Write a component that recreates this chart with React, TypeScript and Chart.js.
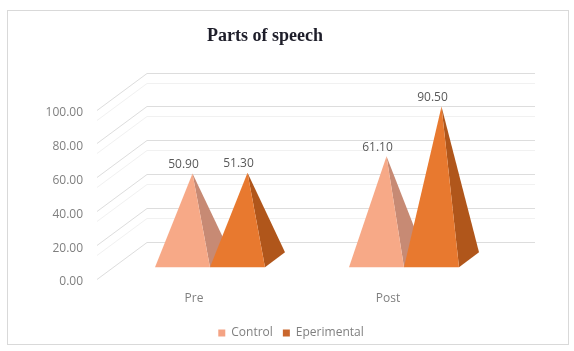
import React, { useEffect, useRef } from "react";
import { Chart, registerables } from "chart.js";

Chart.register(...registerables);

// Chart data
const categories = ["Pre", "Post"];
const seriesNames = ["Control", "Eperimental"];
const controlValues = [50.9, 61.1];
const experimentalValues = [51.3, 90.5];
const yTickValues = [0, 20, 40, 60, 80, 100];

// Face colours for each series: lit front face, shaded right face, legend swatch
const frontColors = ["#F7A987", "#E8792F"];
const sideColors = ["#C78A74", "#B0561B"];
const legendColors = ["#F4A384", "#C9662C"];

// Oblique 3D projection: full floor depth maps to this screen offset
const DEPTH_X = 50;
const DEPTH_Y = -37;
// Pyramids stand between these depth fractions of the floor
const NEAR = 0.32;
const FAR = 0.72;

const labelFont = "Open Sans";

const pyramid3d = {
  id: "pyramid3d",
  beforeDraw(chart: any) {
    const { ctx, width, height } = chart;
    ctx.save();
    ctx.fillStyle = "#FFFFFF";
    ctx.fillRect(0, 0, width, height);
    ctx.strokeStyle = "#D9D9D9";
    ctx.lineWidth = 1;
    ctx.strokeRect(7.5, 10.5, 561, 334);
    ctx.restore();
  },
  beforeDatasetsDraw(chart: any) {
    const { ctx, chartArea, scales } = chart;
    const ys = scales.y;
    const proj = (xf: number, v: number, d: number) => ({
      x: xf + DEPTH_X * d,
      y: ys.getPixelForValue(v) + DEPTH_Y * d,
    });

    ctx.save();
    // Side wall and back wall gridlines
    ctx.lineWidth = 1;
    yTickValues.forEach((v, k) => {
      const a = proj(chartArea.left, v, 0);
      const b = proj(chartArea.left, v, 1);
      const c = proj(chartArea.right, v, 1);
      if (k > 0) {
        // faint companion line just below each major line
        ctx.strokeStyle = "#F1F1F1";
        ctx.beginPath();
        ctx.moveTo(a.x, Math.round(a.y) + 10.5);
        ctx.lineTo(b.x, Math.round(b.y) + 10.5);
        ctx.lineTo(c.x, Math.round(b.y) + 10.5);
        ctx.stroke();
      }
      ctx.strokeStyle = "#DDDDDD";
      ctx.beginPath();
      ctx.moveTo(a.x, Math.round(a.y) + 0.5);
      ctx.lineTo(b.x, Math.round(b.y) + 0.5);
      ctx.lineTo(c.x, Math.round(b.y) + 0.5);
      ctx.stroke();
    });

    // Pyramids, left to right so later faces overlap earlier ones
    const labels: { x: number; y: number; text: string }[] = [];
    categories.forEach((_, j) => {
      chart.data.datasets.forEach((ds: any, i: number) => {
        const meta = chart.getDatasetMeta(i);
        const bar = meta.data[j];
        const v = ds.data[j] as number;
        const xl = bar.x - bar.width / 2;
        const xr = bar.x + bar.width / 2;
        const fl = proj(xl, 0, NEAR);
        const fr = proj(xr, 0, NEAR);
        const br = proj(xr, 0, FAR);
        const apex = proj(bar.x, v, (NEAR + FAR) / 2);

        // right face
        ctx.fillStyle = sideColors[i];
        ctx.beginPath();
        ctx.moveTo(fr.x, fr.y);
        ctx.lineTo(br.x, br.y);
        ctx.lineTo(apex.x, apex.y);
        ctx.closePath();
        ctx.fill();

        // front face
        ctx.fillStyle = frontColors[i];
        ctx.beginPath();
        ctx.moveTo(fl.x, fl.y);
        ctx.lineTo(fr.x, fr.y);
        ctx.lineTo(apex.x, apex.y);
        ctx.closePath();
        ctx.fill();

        labels.push({ x: apex.x - 9, y: apex.y - 9, text: v.toFixed(2) });
      });
    });

    // Value labels
    ctx.fillStyle = "#595959";
    ctx.font = `12px "${labelFont}"`;
    ctx.textAlign = "center";
    ctx.textBaseline = "middle";
    labels.forEach((l) => ctx.fillText(l.text, l.x, l.y));
    ctx.restore();
    return false;
  },
};

export default function App() {
  const canvasRef = useRef<HTMLCanvasElement | null>(null);

  useEffect(() => {
    const canvas = canvasRef.current;
    if (!canvas) return;
    const tickFont = { family: labelFont, size: 12 };
    const chart = new Chart(canvas, {
      type: "bar",
      data: {
        labels: categories,
        datasets: [
          { label: seriesNames[0], data: controlValues, backgroundColor: legendColors[0], borderWidth: 0 },
          { label: seriesNames[1], data: experimentalValues, backgroundColor: legendColors[1], borderWidth: 0 },
        ],
      },
      options: {
        responsive: false,
        animation: false,
        devicePixelRatio: 1,
        layout: { padding: { left: 0, right: 44, top: 0, bottom: 2 } },
        datasets: { bar: { categoryPercentage: 0.567, barPercentage: 1 } },
        scales: {
          x: {
            grid: { display: false, drawTicks: false },
            border: { display: false },
            ticks: { padding: 12, color: "#7F7F7F", font: tickFont },
            afterFit: (s: any) => {
              s.height = 38;
            },
          },
          y: {
            min: 0,
            max: 100,
            grid: { display: false, drawTicks: false },
            border: { display: false },
            ticks: {
              stepSize: 20,
              padding: 14,
              labelOffset: 3,
              color: "#7F7F7F",
              font: tickFont,
              callback: (v: any) => Number(v).toFixed(2),
            },
            afterFit: (s: any) => {
              s.width = 97;
            },
          },
          y1: {
            type: "linear",
            position: "right",
            grid: { display: false, drawTicks: false },
            border: { display: false },
            ticks: { display: false },
            afterFit: (s: any) => {
              s.width = 45;
            },
          },
        },
        plugins: {
          title: {
            display: true,
            text: "Parts of speech",
            color: "#1E1E2A",
            font: { family: "Liberation Serif", size: 18, weight: "bold" },
            padding: { top: 26, bottom: 62 },
          },
          legend: {
            position: "bottom",
            fullSize: false,
            labels: {
              boxWidth: 7,
              boxHeight: 7,
              padding: 10,
              color: "#7F7F7F",
              font: tickFont,
            },
          },
          tooltip: { enabled: false },
        },
      } as any,
      plugins: [pyramid3d],
    });
    return () => chart.destroy();
  }, []);

  return (
    <div style={{ position: "fixed", left: 0, top: 0, width: 574, height: 351, background: "#fff" }}>
      <canvas ref={canvasRef} width={574} height={351} style={{ display: "block" }} />
    </div>
  );
}
